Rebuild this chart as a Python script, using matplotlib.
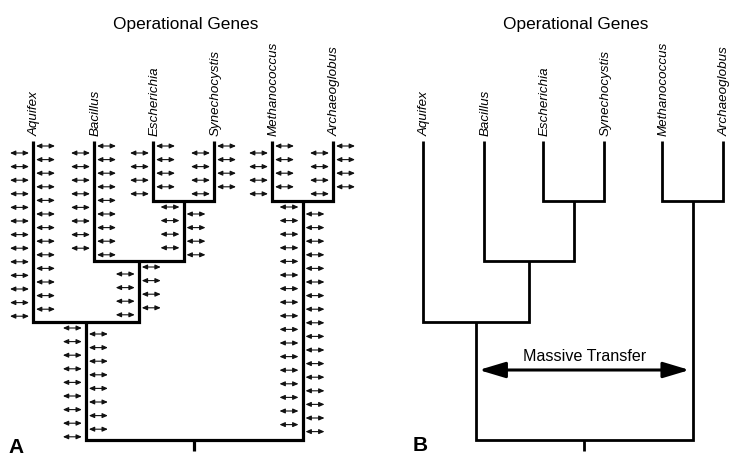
import matplotlib
matplotlib.use("Agg")
import matplotlib.pyplot as plt
from matplotlib.patches import FancyArrowPatch

plt.rcParams['font.family'] = ['Liberation Sans', 'DejaVu Sans']

# the six genomes, left to right, and where their tips sit in panel A (pixels)
taxa = ["Aquifex", "Bacillus", "Escherichia", "Synechocystis", "Methanococcus", "Archaeoglobus"]
leaf_x = [33, 94, 153, 214, 272, 333]
leaf_top = 141

# internal nodes: name, children, height of the join
clades = [
    ("ES", ["Escherichia", "Synechocystis"], 201),
    ("MA", ["Methanococcus", "Archaeoglobus"], 201),
    ("BES", ["Bacillus", "ES"], 261),
    ("ABES", ["Aquifex", "BES"], 322),
    ("root", ["ABES", "MA"], 440),
]

# transferred genes on each branch of panel A (left side / right side of the branch)
branch_names = ["Aquifex", "Bacillus", "Escherichia", "Synechocystis",
                "Methanococcus", "Archaeoglobus", "ES", "MA", "BES", "ABES"]
genes_left = [13, 8, 4, 4, 4, 4, 4, 17, 4, 9]
genes_right = [13, 9, 4, 4, 4, 4, 4, 17, 4, 8]
left_first = [12, 12, 12, 12, 12, 12, 6, 6, 13, 6]
right_first = [5, 5, 5, 5, 5, 5, 13, 13, 6, 12]
gene_step = 13.6

panel_shift = 390   # panel B is the same tree moved right


def layout(shift):
    x = {t: leaf_x[i] + shift for i, t in enumerate(taxa)}
    y = {t: leaf_top for t in taxa}
    for name, kids, h in clades:
        x[name] = (x[kids[0]] + x[kids[1]]) / 2
        y[name] = h
    return x, y


def draw_tree(ax, x, y, lw):
    for name, kids, h in clades:
        a, b = kids
        ax.plot([x[a], x[a], x[b], x[b]], [y[a], h, h, y[b]], color="black", lw=lw,
                solid_joinstyle="miter", solid_capstyle="butt")
    # little stub under the root
    ax.plot([x["root"], x["root"]], [y["root"], y["root"] + 11], color="black", lw=lw,
            solid_capstyle="butt")
    for t in taxa:
        ax.text(x[t] + 2, leaf_top - 5, t, rotation=90, ha="center", va="bottom",
                style="italic", fontsize=9.6)
    ax.text(x["root"] - 8.5, 29.5, "Operational Genes", ha="center", va="baseline", fontsize=12.4)


def gene(ax, x0, x1, yy):
    ar = FancyArrowPatch((x0, yy), (x1, yy), arrowstyle="<|-|>,head_length=0.32,head_width=0.14",
                         mutation_scale=10, lw=0.8, color="#111111", shrinkA=0, shrinkB=0)
    ax.add_patch(ar)


fig = plt.figure(figsize=(7.39, 4.61), dpi=100)
ax = fig.add_axes([0, 0, 1, 1])
ax.set_xlim(0, 739)
ax.set_ylim(461, 0)
ax.axis("off")

# ---- panel A
xa, ya = layout(0)
draw_tree(ax, xa, ya, 2.3)
parent_h = {kid: h for name, kids, h in clades for kid in kids}
for i, br in enumerate(branch_names):
    bx = xa[br]
    top = ya[br]
    for k in range(genes_left[i]):
        gene(ax, bx - 23, bx - 4, top + left_first[i] + k * gene_step)
    for k in range(genes_right[i]):
        gene(ax, bx + 3, bx + 22, top + right_first[i] + k * gene_step)
ax.text(8, 452.7, "A", fontsize=15, fontweight="bold", ha="left", va="baseline")

# ---- panel B
xb, yb = layout(panel_shift)
draw_tree(ax, xb, yb, 2.0)
big = FancyArrowPatch((xb["ABES"] + 3, 370), (xb["MA"] - 3, 370),
                      arrowstyle="<|-|>,head_length=1.6,head_width=0.48",
                      mutation_scale=10, lw=2.2, color="black", shrinkA=0, shrinkB=0)
ax.add_patch(big)
ax.text((xb["ABES"] + xb["MA"]) / 2, 360.5, "Massive Transfer", ha="center", va="baseline",
        fontsize=11.6)
ax.text(413, 450.7, "B", fontsize=15, fontweight="bold", ha="left", va="baseline")

fig.savefig("out.png", dpi=100)
